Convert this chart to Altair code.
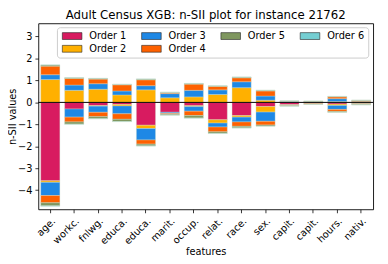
import altair as alt
import pandas as pd

features = ["age.", "workc.", "fnlwg.", "educa.", "educa.", "marit.", "occup.",
            "relat.", "race.", "sex.", "capit.", "capit.", "hours.", "nativ."]
orders = ["Order 1", "Order 2", "Order 3", "Order 4", "Order 5", "Order 6"]
colors = ["#D81B60", "#FFB000", "#1E88E5", "#FE6100", "#7F975F", "#74CED2"]

pos_o1 = [0, 0, 0, 0, 0, 0, 0, 0, 0, 0, 0, 0, 0, 0]
pos_o2 = [1.04, 0.55, 0.60, 0.34, 0.57, 0.21, 0.25, 0.36, 0.67, 0.10, 0, 0, 0.04, 0.02]
pos_o3 = [0.22, 0.24, 0.25, 0.18, 0.19, 0.19, 0.30, 0.21, 0.27, 0.19, 0.04, 0.02, 0.13, 0.02]
pos_o4 = [0.39, 0.30, 0.21, 0.28, 0.27, 0.04, 0.28, 0.16, 0.18, 0.23, 0.01, 0.02, 0.08, 0.04]
pos_o5 = [0.05, 0.03, 0.03, 0.02, 0.03, 0.02, 0.03, 0.02, 0.03, 0.03, 0.02, 0.02, 0.02, 0.02]
pos_o6 = [0.01, 0.01, 0.01, 0.01, 0.01, 0.005, 0.01, 0.01, 0.01, 0.005, 0.005, 0.005, 0.005, 0.005]

neg_o1 = [-3.57, -0.30, -0.15, -0.10, -1.04, -0.45, -0.15, -0.79, -0.60, -0.19, -0.11, -0.04, -0.08, -0.02]
neg_o2 = [-0.07, 0, -0.02, -0.06, -0.15, 0, -0.04, -0.15, -0.07, -0.25, -0.01, 0, -0.06, 0]
neg_o3 = [-0.60, -0.37, -0.28, -0.36, -0.52, -0.05, -0.21, -0.18, -0.22, -0.42, -0.01, 0, -0.18, -0.03]
neg_o4 = [-0.33, -0.22, -0.20, -0.25, -0.19, -0.04, -0.20, -0.22, -0.20, -0.17, -0.02, -0.03, -0.09, -0.03]
neg_o5 = [-0.14, -0.10, -0.09, -0.10, -0.08, -0.04, -0.11, -0.07, -0.07, -0.05, -0.02, -0.02, -0.04, -0.03]
neg_o6 = [-0.02, -0.01, -0.01, -0.01, -0.01, -0.005, -0.01, -0.01, -0.01, -0.005, -0.005, -0.005, -0.005, -0.005]

y_ticks = [-4, -3, -2, -1, 0, 1, 2, 3]

pos_all = [pos_o1, pos_o2, pos_o3, pos_o4, pos_o5, pos_o6]
neg_all = [neg_o1, neg_o2, neg_o3, neg_o4, neg_o5, neg_o6]

rows = []
for k in range(6):
    for i in range(len(features)):
        for v in (pos_all[k][i], neg_all[k][i]):
            if v != 0:
                rows.append({"idx": i, "order": orders[k], "k": k + 1, "value": v})
df = pd.DataFrame(rows)

# legend laid out like matplotlib ncol=4 (column-major)
leg_order = [0, 2, 4, 5, 1, 3]
leg_domain = [orders[j] for j in leg_order]
leg_range = [colors[j] for j in leg_order]

label_expr = "[" + ",".join("'" + f + "'" for f in features) + "][datum.value]"

font = "DejaVu Sans"
y_scale = alt.Scale(domain=[-4.87, 3.6], nice=False, zero=False)
y_axis = alt.Axis(values=y_ticks, title="n-SII values", titlePadding=0,
                  labelOverlap=False)

bars = alt.Chart(df).mark_bar(stroke="#cfe0cf", strokeWidth=0.6, strokeOpacity=0.6).encode(
    x=alt.X("idx:O",
            scale=alt.Scale(paddingInner=0.2, paddingOuter=0.1),
            axis=alt.Axis(labelExpr=label_expr, labelAngle=-45, title="features",
                          titlePadding=1)),
    y=alt.Y("value:Q", stack="zero", scale=y_scale, axis=y_axis),
    color=alt.Color("order:N",
                    scale=alt.Scale(domain=leg_domain, range=leg_range),
                    legend=alt.Legend(
                        title=None, orient="none", legendX=19, legendY=4,
                        columns=4, direction="horizontal",
                        symbolType="M-1,-1L4.714,-1L4.714,1L-1,1Z",
                        symbolSize=49, symbolStrokeColor="#222222",
                        symbolStrokeWidth=0.6, symbolOpacity=1,
                        labelFont=font, labelFontSize=10, labelColor="black",
                        labelOffset=19, columnPadding=14, rowPadding=3,
                        padding=4, fillColor="white", strokeColor="#cccccc",
                        cornerRadius=3)),
    order=alt.Order("k:Q", sort="ascending"),
)

zero = alt.Chart(pd.DataFrame({"value": [0]})).mark_rule(color="black", strokeWidth=1).encode(
    y=alt.Y("value:Q", scale=y_scale, axis=y_axis))

chart = alt.layer(bars, zero).properties(
    width=342, height=190,
    title=alt.TitleParams("Adult Census XGB: n-SII plot for instance 21762",
                          font=font, fontSize=12, fontWeight="normal",
                          color="black", anchor="middle", offset=1),
    autosize=alt.AutoSizeParams(type="none"),
    padding={"left": 31, "top": 13, "right": 7, "bottom": 45},
).configure_view(stroke="black", strokeWidth=0.9).configure_axis(
    labelFont=font, labelFontSize=10, labelColor="black",
    titleFont=font, titleFontSize=10, titleFontWeight="normal", titleColor="black",
    tickColor="black", tickSize=3.5, tickWidth=0.8, labelPadding=3,
    domain=False, grid=False,
)

chart.save("out.html", embed_options={"renderer": "svg", "actions": False})
